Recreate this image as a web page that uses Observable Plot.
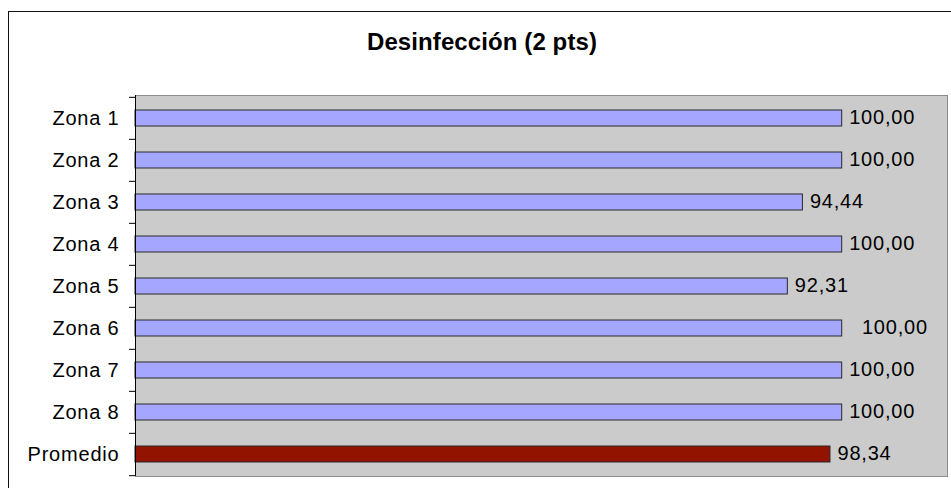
<!DOCTYPE html>
<html>
<head>
<meta charset="utf-8">
<script src="https://cdn.jsdelivr.net/npm/d3@7"></script>
<script src="https://cdn.jsdelivr.net/npm/@observablehq/plot@0.6"></script>
<style>
  html, body { margin: 0; padding: 0; background: #fff; overflow: hidden; }
  #wrap { position: relative; width: 951px; height: 488px; overflow: hidden; font-family: "Liberation Sans", Arial, sans-serif; }
  #border { position: absolute; left: 8px; top: 11px; width: 1000px; height: 1000px; border: 1px solid #111; box-sizing: border-box; }
  #title { position: absolute; left: 0; top: 30px; width: 964px; text-align: center; font-size: 24px; line-height: 24px; font-weight: bold; color: #000; letter-spacing: 0.1px; }
  #chart { position: absolute; left: 0; top: 0; }
  #chart svg text { letter-spacing: 0.8px; }
</style>
</head>
<body>
<div id="wrap">
  <div id="border"></div>
  <div id="title">Desinfección (2 pts)</div>
  <div id="chart"></div>
</div>
<script>
const categories = ["Zona 1", "Zona 2", "Zona 3", "Zona 4", "Zona 5", "Zona 6", "Zona 7", "Zona 8", "Promedio"];
const values = [100, 100, 94.44, 100, 92.31, 100, 100, 100, 98.34];
const valueLabels = ["100,00", "100,00", "94,44", "100,00", "92,31", "\u00a0\u00a0100,00", "100,00", "100,00", "98,34"];

const data = categories.map((c, i) => ({cat: c, value: values[i], label: valueLabels[i]}));

const W = 951, H = 488;
const mL = 135, mR = 4, mT = 95, mB = 12;
const xMax = 114.9;
const step = (H - mT - mB) / categories.length;
const pxPerUnit = (W - mL - mR) / xMax;
const tickLen = 6 / pxPerUnit;

const chart = Plot.plot({
  width: W,
  height: H,
  marginLeft: mL,
  marginRight: mR,
  marginTop: mT,
  marginBottom: mB,
  style: {fontFamily: "'Liberation Sans', Arial, sans-serif", color: "#000", background: "transparent", overflow: "visible"},
  x: {domain: [0, xMax], axis: null},
  y: {type: "band", domain: categories, paddingInner: 0.62, paddingOuter: 0.31, align: 0.5, label: null},
  marks: [
    Plot.frame({fill: "#cbcbcb", stroke: "#8c8c8c", strokeWidth: 1}),
    Plot.barX(data, {
      x: "value", y: "cat",
      fill: d => d.cat === "Promedio" ? "#921300" : "#a5a6ff",
      stroke: "#2a2a2a", strokeWidth: 1
    }),
    Plot.text(data, {
      x: "value", y: "cat", text: "label",
      textAnchor: "start", dx: 7, dy: -1, fontSize: 20, fill: "#000"
    }),
    Plot.ruleX([0], {stroke: "#000", strokeWidth: 1}),
    Plot.ruleY(categories, {y: d => d, x1: -tickLen, x2: 0, dy: -step / 2, stroke: "#000"}),
    Plot.ruleY(categories.slice(-1), {y: d => d, x1: -tickLen, x2: 0, dy: step / 2, stroke: "#000"}),
    Plot.axisY({tickSize: 0, tickPadding: 16, fontSize: 20, label: null, fill: "#000"})
  ]
});
document.getElementById("chart").appendChild(chart);
</script>
</body>
</html>
